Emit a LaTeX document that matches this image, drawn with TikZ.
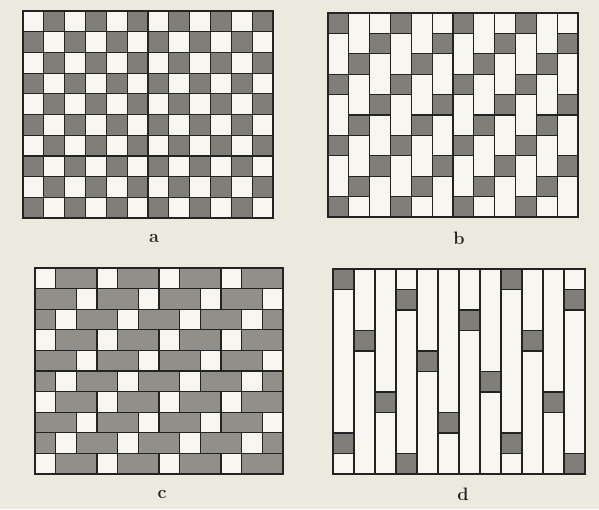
\documentclass[tikz,border=0pt]{standalone}
\definecolor{bgc}{RGB}{236,233,223}
\definecolor{wcell}{RGB}{247,246,241}
\definecolor{dcell}{RGB}{128,126,121}
\definecolor{ccell}{RGB}{145,143,137}
\definecolor{ink}{RGB}{35,35,35}
\tikzset{
  gl/.style={draw=ink, line width=1.2pt},
  frame/.style={draw=ink, line width=1.7pt},
  darkbox/.style={fill=dcell, draw=ink, line width=1.2pt},
  lightbox/.style={fill=wcell, draw=ink, line width=1.2pt},
  lab/.style={font=\fontsize{18}{18}\selectfont\bfseries, text=ink, inner sep=0pt}
}
\begin{document}
\begin{tikzpicture}[x=1pt,y=-1pt]
\useasboundingbox (0,0) rectangle (599,509);
\fill[bgc] (0,0) rectangle (599,509);

% ---- panel a : plain weave
\begin{scope}[shift={(23,11)},x=20.833pt,y=-20.7pt]
  \fill[wcell] (0,0) rectangle (12,10);
  \foreach \r in {0,...,9}{\foreach \c in {0,...,11}{
    \pgfmathtruncatemacro\m{mod(\r+\c,2)}
    \ifnum\m=1 \fill[dcell] (\c,\r) rectangle ++(1,1); \fi}}
  \foreach \c in {1,...,11} \draw[gl] (\c,0) -- (\c,10);
  \foreach \r in {1,...,9} \draw[gl] (0,\r) -- (12,\r);
  \draw[frame] (0,0) rectangle (12,10);
\end{scope}

% ---- panel b : 2/1 twill (vertical floats)
\begin{scope}[shift={(328,13)},x=20.833pt,y=-20.4pt]
  \fill[wcell] (0,0) rectangle (12,10);
  \foreach \r in {0,...,9}{\foreach \c in {0,...,11}{
    \pgfmathtruncatemacro\m{mod(\r+\c,3)}
    \ifnum\m=0 \path[darkbox] (\c,\r) rectangle ++(1,1); \fi}}
  \foreach \c in {1,...,11} \draw[gl] (\c,0) -- (\c,10);
  \draw[frame] (0,0) rectangle (12,10);
\end{scope}

% ---- panel c : 1/2 twill (horizontal floats)
\begin{scope}[shift={(35,268)},x=20.667pt,y=-20.6pt]
  \fill[ccell] (0,0) rectangle (12,10);
  \foreach \r in {0,...,9}{\foreach \c in {0,...,11}{
    \pgfmathtruncatemacro\m{mod(\r+\c,3)}
    \ifnum\m=0 \path[lightbox] (\c,\r) rectangle ++(1,1); \fi}}
  \foreach \r in {1,...,9} \draw[gl] (0,\r) -- (12,\r);
  \draw[frame] (0,0) rectangle (12,10);
\end{scope}

% ---- panel d : 8-end satin
\begin{scope}[shift={(333,269)},x=21pt,y=-20.5pt]
  \fill[wcell] (0,0) rectangle (12,10);
  \foreach \r in {0,...,9}{\foreach \c in {0,...,11}{
    \pgfmathtruncatemacro\m{mod(\r+5*\c,8)}
    \ifnum\m=0 \path[darkbox] (\c,\r) rectangle ++(1,1); \fi}}
  \foreach \c in {1,...,11} \draw[gl] (\c,0) -- (\c,10);
  \draw[frame] (0,0) rectangle (12,10);
\end{scope}

\node[lab] (la) at (154,238) {a};
\node[lab] (lb) at (459,238) {b};
\node[lab] (lc) at (162,494) {c};
\node[lab] (ld) at (463,494) {d};
\end{tikzpicture}
\end{document}
